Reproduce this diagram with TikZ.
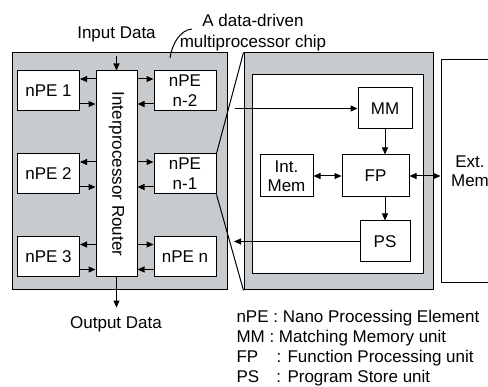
\documentclass[tikz,border=0pt]{standalone}
\usepackage{fontspec}
\setmainfont{Liberation Sans}
\usepackage{graphicx}
\usetikzlibrary{arrows.meta,positioning}
\definecolor{chipgray}{RGB}{200,203,206}

\begin{document}
\begin{tikzpicture}[
  x=1pt, y=-1pt,
  >={Triangle[length=7pt,width=6pt]},
  line width=1pt,
  every node/.style={inner sep=0pt, font=\fontsize{17}{21}\selectfont},
  box/.style={draw, fill=white, align=center},
  pe/.style={box, minimum width=62pt, minimum height=40pt},
  panel/.style={draw, fill=chipgray, minimum width=#1, minimum height=237pt},
  ]
  \clip (0,0) rectangle (488,387);
  \node[panel=215pt] (chip) at (119.5,171.5) {};
  \node[panel=189pt] (zoom) at (338.5,171.5) {};
  \node[draw, fill=white, minimum width=171pt, minimum height=199pt] (inner) at (337.5,174.5) {};

  \node[box, minimum width=41pt, minimum height=206pt] (R) at (116.5,174) {\rotatebox{-90}{Interprocessor Router}};
  \node[pe] (pe1) at (48.5,91) {nPE 1};
  \node[pe] (pe2) at (48.5,174) {nPE 2};
  \node[pe] (pe3) at (48.5,256.5) {nPE 3};
  \node[pe] (pen2) at (185,91) {nPE\\[-1pt]n-2};
  \node[pe] (pen1) at (185,174) {nPE\\[-1pt]n-1};
  \node[pe] (pen) at (185,256.5) {nPE n};

  \node[box, minimum width=54pt, minimum height=41pt] (MM) at (385,108.5) {MM};
  \node[box, minimum width=67pt, minimum height=42pt] (FP) at (375.5,176) {FP};
  \node[box, minimum width=53pt, minimum height=42pt] (IM) at (286.5,176) {Int.\\[-2pt]Mem};
  \node[box, minimum width=50pt, minimum height=41pt] (PS) at (385,241.5) {PS};
  \node[box, minimum width=58pt, minimum height=223pt] (ext) at (470,171.5) {Ext.\\[-2pt]Mem};

  \node[anchor=base] (in) at (116.5,38.5) {Input Data};
  \node[anchor=base] (out) at (116,329) {Output Data};
  \node[align=center, anchor=north] (title) at (253,13.6) {A data-driven\\multiprocessor chip};
  \node[align=left, anchor=north west, font=\fontsize{17}{20}\selectfont] (key) at (236,310)
    {nPE : Nano Processing Element\\MM : Matching Memory unit\\\makebox[40pt][l]{FP}: Function Processing unit\\\makebox[40pt][l]{PS}: Program Store unit};

  \coordinate (lead) at (192,29);
  \coordinate (tail) at (170,58);
  \coordinate (mmin) at (235,108.5);
  \coordinate (psout) at (234,241.5);

  \foreach \p in {pe1,pe2,pe3}{
    \draw[->] ([yshift=12pt]\p.east -| R.west) -- ([yshift=12pt]\p.east);
    \draw[->] ([yshift=-13pt]\p.east) -- ([yshift=-13pt]\p.east -| R.west);
  }
  \foreach \p in {pen2,pen1,pen}{
    \draw[->] ([yshift=12pt]\p.west -| R.east) -- ([yshift=12pt]\p.west);
    \draw[->] ([yshift=-13pt]\p.west) -- ([yshift=-13pt]\p.west -| R.east);
  }
  \draw[->, shorten <=13pt] (in.south) -- (R.north);
  \draw[->, shorten >=9pt] (R.south) -- (R.south |- out.north);
  \draw (lead) .. controls (180,30) and (172,44) .. (tail);

  \draw (pen1.north east) -- (zoom.north west);
  \draw (pen1.south east) -- (zoom.south west);
  \draw[->] (mmin) -- (MM.west);
  \draw[->] (PS.west) -- (psout);
  \draw[->] (MM) -- (MM |- FP.north);
  \draw[->] (PS |- FP.south) -- (PS);
  \draw[<->] (IM) -- (FP);
  \draw[<->] (FP.east) -- (FP.east -| ext.west);
\end{tikzpicture}
\end{document}
